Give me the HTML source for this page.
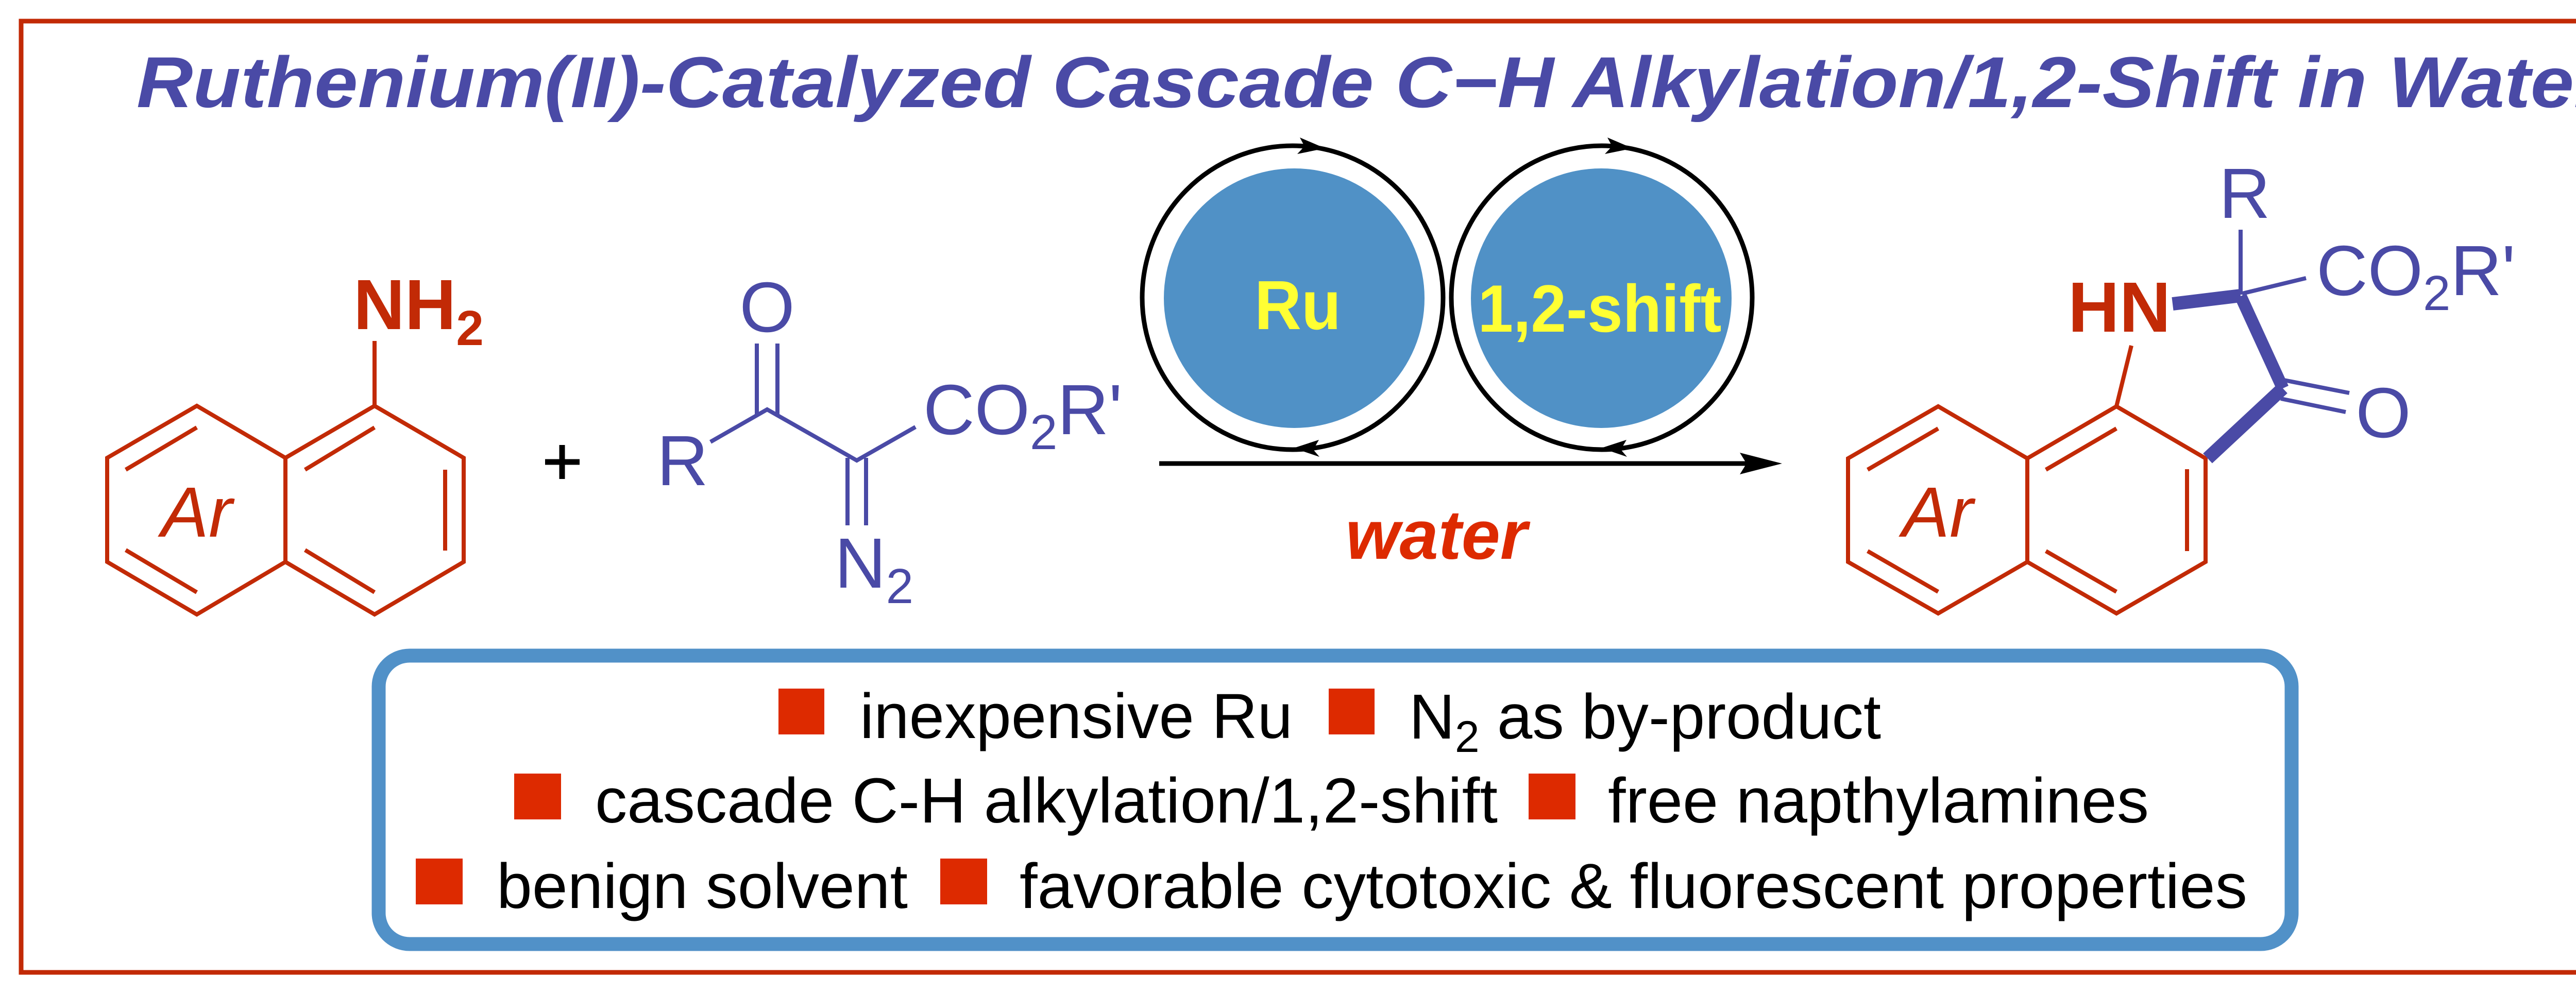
<!DOCTYPE html>
<html><head><meta charset="utf-8"><style>html,body{margin:0;padding:0;background:#fff}svg{display:block}</style></head>
<body>
<svg xmlns="http://www.w3.org/2000/svg" width="5194" height="1930" viewBox="0 0 5194 1930">
<rect x="0" y="0" width="5194" height="1930" fill="#fff"/>
<rect x="41" y="41" width="5113" height="1847" fill="none" stroke="#c22a06" stroke-width="9"/>
<text x="265" y="208" font-family="Liberation Sans, sans-serif" font-weight="bold" font-style="italic" font-size="140" fill="#4a4aa6" textLength="4790" lengthAdjust="spacingAndGlyphs">Ruthenium(II)-Catalyzed Cascade C−H Alkylation/1,2-Shift in Water</text>

<!-- left naphthylamine -->
<g stroke="#c22a06" stroke-width="8" fill="none" stroke-linejoin="miter">
<polygon points="382,788 554,889 554,1091 382,1193 208,1091 208,889"/>
<polyline points="554,889 727,788 900,889 900,1091 727,1193 554,1091"/>
<line x1="244" y1="912" x2="382" y2="830"/>
<line x1="244" y1="1068" x2="382" y2="1150"/>
<line x1="592" y1="912" x2="727" y2="830"/>
<line x1="592" y1="1068" x2="727" y2="1150"/>
<line x1="864" y1="912" x2="864" y2="1069"/>
<line x1="727" y1="788" x2="727" y2="662"/>
</g>
<text x="686" y="639" font-family="Liberation Sans, sans-serif" font-weight="bold" font-size="138" fill="#c22a06">NH<tspan font-size="96" dy="31">2</tspan></text>
<text x="313" y="1042" font-family="Liberation Sans, sans-serif" font-style="italic" font-size="138" fill="#c22a06">Ar</text>

<!-- plus -->
<g stroke="#000" stroke-width="11"><line x1="1058" y1="897" x2="1125" y2="897"/><line x1="1091" y1="864" x2="1091" y2="930"/></g>

<!-- diazo compound -->
<g stroke="#4a4aa6" stroke-width="8" fill="none">
<polyline points="1379,858 1489,795 1663,894 1777,829"/>
<line x1="1469" y1="667" x2="1469" y2="806"/>
<line x1="1509" y1="667" x2="1509" y2="806"/>
<line x1="1645" y1="889" x2="1645" y2="1020"/>
<line x1="1681" y1="889" x2="1681" y2="1020"/>
</g>
<g font-family="Liberation Sans, sans-serif" font-size="138" fill="#4a4aa6">
<text x="1275" y="942">R</text>
<text x="1489" y="644" text-anchor="middle">O</text>
<text x="1792" y="843">CO<tspan font-size="96" dy="29">2</tspan><tspan dy="-29">R'</tspan></text>
<text x="1620" y="1141">N<tspan font-size="96" dy="30">2</tspan></text>
</g>

<!-- cycles -->
<ellipse cx="2512" cy="579" rx="253" ry="252" fill="#5091c6"/>
<ellipse cx="3108" cy="579" rx="253" ry="252" fill="#5091c6"/>
<ellipse cx="2509" cy="578" rx="292" ry="295" fill="none" stroke="#000" stroke-width="9"/>
<ellipse cx="3109" cy="578" rx="292" ry="295" fill="none" stroke="#000" stroke-width="9"/>
<g fill="#000">
<polygon points="2572,288 2523,267 2532,284 2518,299"/>
<polygon points="3169,288 3120,267 3129,284 3115,299"/>
<polygon points="2511,870 2560,854 2549,873 2561,887"/>
<polygon points="3108,870 3157,854 3146,873 3158,887"/>
</g>
<text x="2519" y="639" text-anchor="middle" font-family="Liberation Sans, sans-serif" font-weight="bold" font-size="135" fill="#ffff33" textLength="168" lengthAdjust="spacingAndGlyphs">Ru</text>
<text x="3105" y="644" text-anchor="middle" font-family="Liberation Sans, sans-serif" font-weight="bold" font-size="130" fill="#ffff33" textLength="473" lengthAdjust="spacingAndGlyphs">1,2-shift</text>
<line x1="2250" y1="900" x2="3395" y2="900" stroke="#000" stroke-width="9"/>
<polygon points="3459,900 3377,879 3390,900 3377,921" fill="#000"/>
<text x="2788" y="1085" text-anchor="middle" font-family="Liberation Sans, sans-serif" font-weight="bold" font-style="italic" font-size="135" fill="#dd2a00">water</text>

<!-- product -->
<g stroke="#c22a06" stroke-width="8" fill="none">
<polygon points="3762,789 3935,890 3935,1091 3762,1191 3587,1091 3587,890"/>
<polyline points="3935,890 4108,789 4281,890 4281,1091 4108,1191 3935,1091"/>
<line x1="3625" y1="912" x2="3762" y2="832"/>
<line x1="3625" y1="1070" x2="3762" y2="1149"/>
<line x1="3971" y1="912" x2="4108" y2="832"/>
<line x1="3971" y1="1070" x2="4108" y2="1149"/>
<line x1="4245" y1="911" x2="4245" y2="1070"/>
<line x1="4108" y1="789" x2="4137" y2="671"/>
</g>
<text x="3692" y="1042" font-family="Liberation Sans, sans-serif" font-style="italic" font-size="138" fill="#c22a06">Ar</text>
<g stroke="#4a4aa6" fill="none">
<line x1="4217" y1="590" x2="4349" y2="574" stroke-width="26"/>
<line x1="4349" y1="575" x2="4431" y2="754" stroke-width="24"/>
<line x1="4431" y1="754" x2="4285" y2="890" stroke-width="26"/>
<line x1="4349" y1="572" x2="4349" y2="446" stroke-width="8"/>
<line x1="4352" y1="570" x2="4476" y2="540" stroke-width="8"/>
<line x1="4433" y1="738" x2="4560" y2="763" stroke-width="8"/>
<line x1="4427" y1="774" x2="4553" y2="800" stroke-width="8"/>
</g>
<text x="4014" y="644" font-family="Liberation Sans, sans-serif" font-weight="bold" font-size="138" fill="#c22a06">HN</text>
<g font-family="Liberation Sans, sans-serif" font-size="138" fill="#4a4aa6">
<text x="4307" y="423">R</text>
<text x="4496" y="573">CO<tspan font-size="96" dy="29">2</tspan><tspan dy="-29">R'</tspan></text>
<text x="4626" y="849" text-anchor="middle">O</text>
</g>

<!-- box -->
<rect x="735" y="1273" width="3713" height="560" rx="60" ry="60" fill="none" stroke="#5191c8" stroke-width="27"/>
<g fill="#dd2a00">
<rect x="1511" y="1337" width="89" height="89"/>
<rect x="2579" y="1337" width="89" height="89"/>
<rect x="998" y="1502" width="91" height="89"/>
<rect x="2967" y="1502" width="91" height="89"/>
<rect x="807" y="1667" width="91" height="89"/>
<rect x="1825" y="1667" width="91" height="89"/>
</g>
<g font-family="Liberation Sans, sans-serif" font-size="123" fill="#000">
<text x="1669" y="1433" textLength="840" lengthAdjust="spacingAndGlyphs">inexpensive Ru</text>
<text x="2735" y="1434">N<tspan font-size="86" dy="26">2</tspan><tspan dy="-26"> as by-product</tspan></text>
<text x="1155" y="1597" textLength="1752" lengthAdjust="spacingAndGlyphs">cascade C-H alkylation/1,2-shift</text>
<text x="3121" y="1597" textLength="1050" lengthAdjust="spacingAndGlyphs">free napthylamines</text>
<text x="964" y="1763" textLength="798" lengthAdjust="spacingAndGlyphs">benign solvent</text>
<text x="1979" y="1763" textLength="2383" lengthAdjust="spacingAndGlyphs">favorable cytotoxic &amp; fluorescent properties</text>
</g>
</svg>
</body></html>
